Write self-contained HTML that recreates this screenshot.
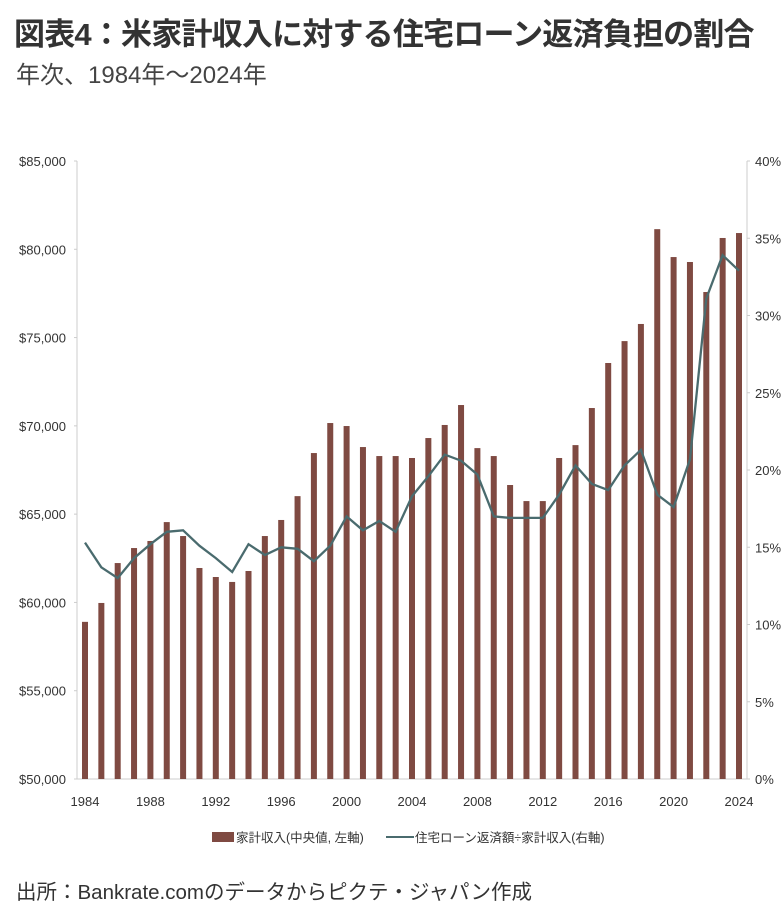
<!DOCTYPE html>
<html><head><meta charset="utf-8">
<style>
html,body{margin:0;padding:0;background:#fff;}
body{width:781px;height:913px;overflow:hidden;position:relative;font-family:"Liberation Sans","Noto Sans CJK JP",sans-serif;}
#title{position:absolute;left:14px;top:9px;font-size:31px;font-weight:bold;color:#333;letter-spacing:-0.8px;white-space:nowrap;}
#subtitle{position:absolute;left:16px;top:55px;font-size:24px;color:#444;white-space:nowrap;}
#source{position:absolute;left:16px;top:875px;font-size:20.5px;color:#333;white-space:nowrap;}
svg{position:absolute;left:0;top:0;}
svg text{font-family:"Liberation Sans Narrow","Liberation Sans","Noto Sans CJK JP",sans-serif;fill:#333;}
</style></head>
<body>
<div id="title">図表4：米家計収入に対する住宅ローン返済負担の割合</div>
<div id="subtitle">年次、1984年～2024年</div>
<svg id="chart" width="781" height="913"></svg>
<div id="source">出所：Bankrate.comのデータからピクテ・ジャパン作成</div>
<script>
const years = [1984,1985,1986,1987,1988,1989,1990,1991,1992,1993,1994,1995,1996,1997,1998,1999,2000,2001,2002,2003,2004,2005,2006,2007,2008,2009,2010,2011,2012,2013,2014,2015,2016,2017,2018,2019,2020,2021,2022,2023,2024];
const income = [58900,59970,62230,63080,63480,64550,63760,61950,61440,61160,61780,63760,64670,66020,68460,70160,69990,68800,68290,68290,68180,69310,70050,71180,68740,68290,66650,65740,65740,68180,68910,71010,73560,74800,75770,81140,79560,79280,77580,80640,80920];
const ratio = [15.3,13.7,13.0,14.3,15.2,16.0,16.1,15.1,14.3,13.4,15.2,14.5,15.0,14.9,14.1,15.1,17.0,16.1,16.7,16.0,18.3,19.6,21.0,20.6,19.7,17.0,16.9,16.9,16.9,18.4,20.3,19.1,18.7,20.3,21.3,18.4,17.6,20.7,31.1,33.9,32.9];
const leftTicks = [50000,55000,60000,65000,70000,75000,80000,85000];
const rightTicks = [0,5,10,15,20,25,30,35,40];
const xTickYears = [1984,1988,1992,1996,2000,2004,2008,2012,2016,2020,2024];

const NS="http://www.w3.org/2000/svg";
const svg=document.getElementById('chart');
const X0=85, X1=739, YT=161, YB=779;
const xs = y => X0 + (y-years[0])*(X1-X0)/(years[years.length-1]-years[0]);
const yl = v => YB - (v-50000)/(85000-50000)*(YB-YT);
const yr = v => YB - v/40*(YB-YT);
function mk(tag,attrs){const e=document.createElementNS(NS,tag);for(const k in attrs)e.setAttribute(k,attrs[k]);svg.appendChild(e);return e;}

let e;
e=mk('line',{x1:77,y1:YT,x2:77,y2:YB,stroke:'#ccc','stroke-width':1});


e=mk('line',{x1:747,y1:YT,x2:747,y2:YB,stroke:'#ccc','stroke-width':1});


e=mk('line',{x1:77,y1:YB,x2:747,y2:YB,stroke:'#ccc','stroke-width':1});



leftTicks.forEach(v=>{
  mk('line',{x1:74,y1:yl(v),x2:77,y2:yl(v),stroke:'#ccc'});
  const t=mk('text',{x:66,y:yl(v)+5,'text-anchor':'end','font-size':13});
  t.textContent='$'+v.toLocaleString('en-US');
  
  
});
rightTicks.forEach(v=>{
  mk('line',{x1:747,y1:yr(v),x2:750,y2:yr(v),stroke:'#ccc'});
  const t=mk('text',{x:755,y:yr(v)+5,'font-size':13});
  t.textContent=v+'%';
  
  
});
xTickYears.forEach(y=>{
  const t=mk('text',{x:xs(y),y:806,'text-anchor':'middle','font-size':13});
  t.textContent=y;
  
  
});

years.forEach((y,i)=>{
  const top=yl(income[i]);
  const b=mk('rect',{x:xs(y)-3,y:top,width:6,height:YB-top,fill:'#7f4a42'});
  
  
});
const pts=years.map((y,i)=>xs(y).toFixed(1)+','+yr(ratio[i]).toFixed(1)).join(' ');
e=mk('polyline',{points:pts,fill:'none',stroke:'#4a6b6e','stroke-width':2.3});



e=mk('rect',{x:212,y:832,width:22,height:10,fill:'#7f4a42'});


e=mk('text',{x:236,y:842,'font-size':12.5});
e.textContent='家計収入(中央値, 左軸)';


e=mk('line',{x1:386,y1:837,x2:414,y2:837,stroke:'#4a6b6e','stroke-width':2});


e=mk('text',{x:415,y:842,'font-size':12.5});
e.textContent='住宅ローン返済額÷家計収入(右軸)';


</script>
</body></html>
